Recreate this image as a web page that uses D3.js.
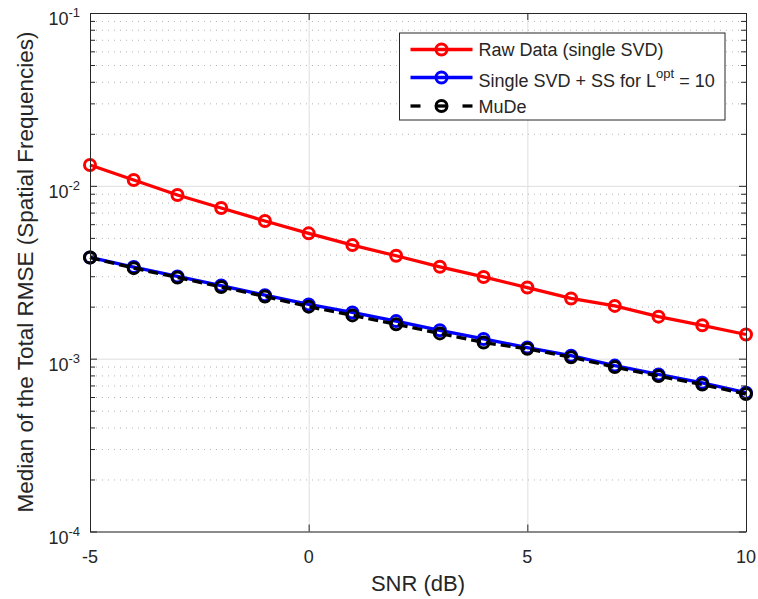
<!DOCTYPE html>
<html>
<head>
<meta charset="utf-8">
<script src="https://cdn.jsdelivr.net/npm/d3@7"></script>
<style>
  body { margin: 0; background: #fff; }
  svg text { font-family: "Liberation Sans", Arial, Helvetica, sans-serif; fill: #262626; }
</style>
</head>
<body>
<svg id="chart" width="758" height="599"></svg>
<script>
// values
const snr = [-5, -4, -3, -2, -1, 0, 1, 2, 3, 4, 5, 6, 7, 8, 9, 10];
const rawData = [0.01319, 0.01080, 0.00885, 0.00744, 0.00626, 0.00531, 0.00454, 0.00394,
                 0.00340, 0.00297, 0.00258, 0.00223, 0.00202, 0.00175, 0.00156, 0.00138];
const singleSS = [0.00385, 0.00339, 0.00299, 0.00265, 0.00233, 0.00206, 0.00185, 0.00165,
                  0.00146, 0.00130, 0.00116, 0.00104, 0.000912, 0.000811, 0.000725, 0.000636];
const mude = [0.00385, 0.00334, 0.00295, 0.00260, 0.00229, 0.00200, 0.00178, 0.00158,
              0.00140, 0.00124, 0.00114, 0.00102, 0.000894, 0.000793, 0.000708, 0.000624];
const xTicks = [-5, 0, 5, 10];
const yExps = [-4, -3, -2, -1];

let margin = {top: 13, right: 12, bottom: 67.5, left: 90};
let width = 758 - margin.left - margin.right;
let height = 599 - margin.top - margin.bottom;

let svg = d3.select("#chart");
let g = svg.append("g").attr("transform", "translate(" + margin.left + "," + margin.top + ")");

let x = d3.scaleLinear().domain([-5, 10]).range([0, width]);
let y = d3.scaleLog().domain([1e-4, 1e-1]).range([height, 0]);

let majorY = yExps.map(e => Math.pow(10, e));
let minorY = [];
yExps.slice(0, 3).forEach(function(e) {
	for (let k = 2; k <= 9; k++) minorY.push(k * Math.pow(10, e));
});

// grid: minor dotted, major solid
g.append("g").attr("class", "minor-grid")
	.call(d3.axisLeft(y).tickValues(minorY).tickSize(-width).tickFormat(""))
	.call(a => a.select(".domain").remove())
	.selectAll("line").attr("stroke", "#b4b4b4").attr("stroke-width", 1).attr("stroke-dasharray", "1,5");

g.append("g").attr("class", "major-grid")
	.call(d3.axisLeft(y).tickValues(majorY).tickSize(-width).tickFormat(""))
	.call(a => a.select(".domain").remove())
	.selectAll("line").attr("stroke", "#dedede").attr("stroke-width", 1);

g.append("g").attr("class", "x-grid")
	.call(d3.axisBottom(x).tickValues(xTicks).tickSize(height).tickFormat(""))
	.call(a => a.select(".domain").remove())
	.selectAll("line").attr("stroke", "#dedede").attr("stroke-width", 1);

// series
let line = d3.line().x((d, i) => x(snr[i])).y(d => y(d));

function drawSeries(values, color, dash) {
	g.append("path")
		.datum(values)
		.attr("fill", "none")
		.attr("stroke", color)
		.attr("stroke-width", 3.3)
		.attr("stroke-dasharray", dash)
		.attr("d", line);
	g.append("g").selectAll("circle")
		.data(values)
		.enter()
		.append("circle")
		.attr("cx", (d, i) => x(snr[i]))
		.attr("cy", d => y(d))
		.attr("r", 5.5)
		.attr("fill", "none")
		.attr("stroke", color)
		.attr("stroke-width", 3);
}
drawSeries(rawData, "#ff0000", null);
drawSeries(singleSS, "#0000ff", null);
drawSeries(mude, "#000000", "10,5");

// axes box with inward ticks
const axisColor = "#262626";
function styleAxis(a) {
	a.select(".domain").attr("stroke", axisColor).attr("stroke-width", 1);
	a.selectAll(".tick line").attr("stroke", axisColor).attr("stroke-width", 1);
}
g.append("g").call(d3.axisLeft(y).tickValues(majorY).tickSizeInner(-7).tickSizeOuter(0).tickFormat("")).call(styleAxis);
g.append("g").call(d3.axisLeft(y).tickValues(minorY).tickSizeInner(-5).tickSizeOuter(0).tickFormat("")).call(styleAxis);
g.append("g").attr("transform", "translate(" + width + ",0)")
	.call(d3.axisRight(y).tickValues(majorY).tickSizeInner(-7).tickSizeOuter(0).tickFormat("")).call(styleAxis);
g.append("g").attr("transform", "translate(" + width + ",0)")
	.call(d3.axisRight(y).tickValues(minorY).tickSizeInner(-5).tickSizeOuter(0).tickFormat("")).call(styleAxis);
g.append("g").attr("transform", "translate(0," + height + ")")
	.call(d3.axisBottom(x).tickValues(xTicks).tickSizeInner(-7).tickSizeOuter(0).tickFormat("")).call(styleAxis);
g.append("g")
	.call(d3.axisTop(x).tickValues(xTicks).tickSizeInner(-7).tickSizeOuter(0).tickFormat("")).call(styleAxis);

// x tick labels
g.append("g").selectAll("text")
	.data(xTicks)
	.enter()
	.append("text")
	.attr("x", d => x(d))
	.attr("y", height + 31.5)
	.attr("text-anchor", "middle")
	.style("font-size", "18px")
	.text(d => d < 0 ? "-" + Math.abs(d) : d);

// y tick labels 10^e
let yl = g.append("g").selectAll("text")
	.data(yExps)
	.enter()
	.append("text")
	.attr("x", -10)
	.attr("y", d => y(Math.pow(10, d)) + 12)
	.attr("text-anchor", "end")
	.style("font-size", "18px");
yl.append("tspan").text("10");
yl.append("tspan").attr("dy", -8).style("font-size", "13px").text(d => "-" + Math.abs(d));

// axis titles
svg.append("text")
	.attr("x", margin.left + width / 2)
	.attr("y", 591)
	.attr("text-anchor", "middle")
	.style("font-size", "22px")
	.text("SNR (dB)");

svg.append("text")
	.attr("transform", "translate(33," + 272 + ") rotate(-90)")
	.attr("text-anchor", "middle")
	.style("font-size", "22.5px")
	.text("Median of the Total RMSE (Spatial Frequencies)");

// legend
let legend = svg.append("g").attr("transform", "translate(399.5,33)");
legend.append("rect")
	.attr("width", 325.5)
	.attr("height", 87)
	.attr("fill", "#fff")
	.attr("stroke", axisColor)
	.attr("stroke-width", 1);

const legendNames = ["Raw Data (single SVD)", "Single SVD + SS for L", "MuDe"];
const legendColors = ["#ff0000", "#0000ff", "#000000"];
const legendRows = [16.5, 44.5, 73];
legendNames.forEach(function(name, i) {
	let ly = legendRows[i];
	let row = legend.append("g");
	if (i === 2) {
		row.append("line").attr("x1", 11).attr("x2", 21).attr("y1", ly).attr("y2", ly)
			.attr("stroke", legendColors[i]).attr("stroke-width", 3.3);
		row.append("line").attr("x1", 63).attr("x2", 73).attr("y1", ly).attr("y2", ly)
			.attr("stroke", legendColors[i]).attr("stroke-width", 3.3);
		row.append("line").attr("x1", 36).attr("x2", 48).attr("y1", ly).attr("y2", ly)
			.attr("stroke", legendColors[i]).attr("stroke-width", 3.3);
	} else {
		row.append("line").attr("x1", 11).attr("x2", 73).attr("y1", ly).attr("y2", ly)
			.attr("stroke", legendColors[i]).attr("stroke-width", 3.3);
	}
	row.append("circle").attr("cx", 42).attr("cy", ly).attr("r", 5.5)
		.attr("fill", "none").attr("stroke", legendColors[i]).attr("stroke-width", 3);
	let t = row.append("text")
		.attr("x", 79)
		.attr("y", ly + 6.5 + (i === 1 ? 2.5 : 0))
		.style("font-size", "18px")
		.text(name);
	if (i === 1) {
		t.append("tspan").attr("dy", -9).style("font-size", "13px").text("opt");
		t.append("tspan").attr("dy", 9).text(" = 10");
	}
});
</script>
</body>
</html>
